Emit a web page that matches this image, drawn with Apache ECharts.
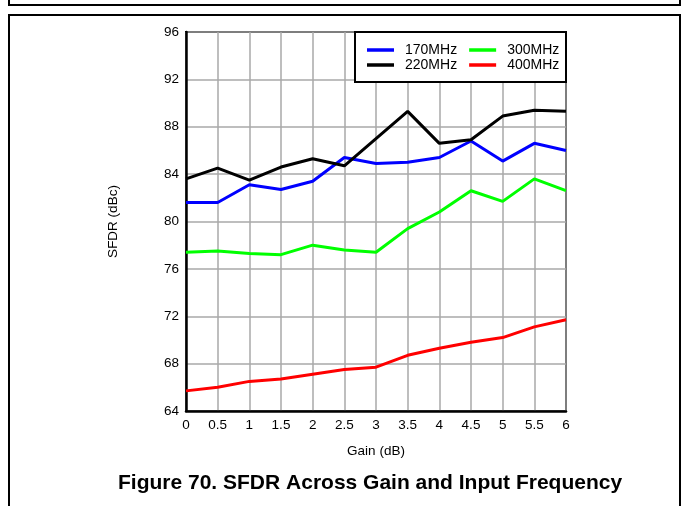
<!DOCTYPE html>
<html>
<head>
<meta charset="utf-8">
<script src="https://cdn.jsdelivr.net/npm/echarts@6/dist/echarts.min.js"></script>
<style>
  html, body { margin: 0; padding: 0; background: #fff; }
  #chart { width: 683px; height: 506px; }
</style>
</head>
<body>
<div id="chart"></div>
<script>
// Gain steps (dB) and SFDR (dBc) for each input frequency
const gain = [0, 0.5, 1, 1.5, 2, 2.5, 3, 3.5, 4, 4.5, 5, 5.5, 6];
const sfdr170 = [81.6, 81.6, 83.1, 82.7, 83.4, 85.4, 84.9, 85.0, 85.4, 86.8, 85.1, 86.6, 86.0];
const sfdr220 = [83.6, 84.5, 83.5, 84.6, 85.3, 84.7, 87.0, 89.3, 86.6, 86.9, 88.9, 89.4, 89.3];
const sfdr300 = [77.4, 77.5, 77.3, 77.2, 78.0, 77.6, 77.4, 79.4, 80.8, 82.6, 81.7, 83.6, 82.6];
const sfdr400 = [65.7, 66.0, 66.5, 66.7, 67.1, 67.5, 67.7, 68.7, 69.3, 69.8, 70.2, 71.1, 71.7];

const seriesNames = ['170MHz', '220MHz', '300MHz', '400MHz'];
const seriesColors = ['#0000ff', '#000000', '#00ff00', '#ff0000'];
const seriesValues = [sfdr170, sfdr220, sfdr300, sfdr400];

const FONT = "'Liberation Sans', Arial, sans-serif";

const chart = echarts.init(document.getElementById('chart'), null, { renderer: 'canvas' });

// one legend row: two entries with short line keys
function legendRow(names, top) {
  return {
    data: names,
    left: 367,
    top: top,
    orient: 'horizontal',
    padding: 0,
    itemGap: 12,
    itemWidth: 27,
    itemHeight: 3.5,
    icon: 'rect',
    selectedMode: false,
    z: 20,
    textStyle: { fontFamily: FONT, fontSize: 14, color: '#000', padding: [0, 0, 0, 6] }
  };
}

const option = {
  backgroundColor: '#fff',
  animation: false,
  grid: {
    left: 186, right: 117, top: 32, bottom: 95,
    containLabel: false,
    outerBoundsMode: 'none',
    show: true,
    borderColor: '#000',
    borderWidth: 2,
    backgroundColor: '#fff'
  },
  legend: [
    legendRow(['170MHz', '300MHz'], 43),
    legendRow(['220MHz', '400MHz'], 58)
  ],
  title: {
    text: 'Figure 70. SFDR Across Gain and Input Frequency',
    left: 118,
    top: 473,
    padding: 0,
    textStyle: { fontFamily: FONT, fontSize: 21, fontWeight: 'bold', color: '#000' }
  },
  xAxis: {
    type: 'value',
    min: 0, max: 6, interval: 0.5,
    name: 'Gain (dB)',
    nameLocation: 'middle',
    nameGap: 33,
    nameTextStyle: { fontFamily: FONT, fontSize: 13.5, color: '#000' },
    axisLine: { show: true, onZero: false, lineStyle: { color: '#000', width: 2.5 } },
    axisTick: { show: false },
    axisLabel: { margin: 7, fontFamily: FONT, fontSize: 13.5, color: '#000' },
    splitLine: { show: true, lineStyle: { color: '#a8a8a8', width: 1.5 } }
  },
  yAxis: {
    type: 'value',
    min: 64, max: 96, interval: 4,
    name: 'SFDR (dBc)',
    nameLocation: 'middle',
    nameGap: 66,
    nameTextStyle: { fontFamily: FONT, fontSize: 13.5, color: '#000' },
    axisLine: { show: true, onZero: false, lineStyle: { color: '#000', width: 2.5 } },
    axisTick: { show: false },
    axisLabel: { margin: 7, fontFamily: FONT, fontSize: 13.5, color: '#000' },
    splitLine: { show: true, lineStyle: { color: '#a8a8a8', width: 1.5 } }
  },
  series: seriesNames.map((name, i) => ({
    name: name,
    type: 'line',
    data: gain.map((g, k) => [g, seriesValues[i][k]]),
    showSymbol: false,
    symbol: 'none',
    color: seriesColors[i],
    lineStyle: { color: seriesColors[i], width: 3 },
    itemStyle: { color: seriesColors[i] },
    z: 3 + i
  })),
  graphic: [
    // page frame lines
    { type: 'polyline', shape: { points: [[9, 0], [9, 5], [680, 5], [680, 0]] },
      style: { stroke: '#000', lineWidth: 2, fill: null }, silent: true },
    { type: 'polyline', shape: { points: [[9, 506], [9, 15], [680, 15], [680, 506]] },
      style: { stroke: '#000', lineWidth: 2, fill: null }, silent: true },
    // legend frame
    { type: 'rect', shape: { x: 355, y: 32, width: 211, height: 50 },
      style: { fill: '#fff', stroke: '#000', lineWidth: 2 }, z: 10, silent: true }
  ]
};

chart.setOption(option);
</script>
</body>
</html>
